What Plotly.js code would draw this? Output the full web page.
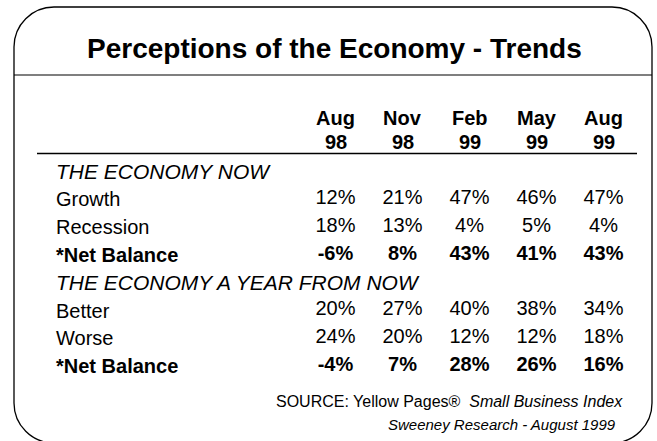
<!DOCTYPE html>
<html>
<head>
<meta charset="utf-8">
<script src="https://cdn.plot.ly/plotly-3.0.1.min.js"></script>
<style>html,body{margin:0;padding:0;background:#fff;}#chart{width:657px;height:441px;}</style>
</head>
<body>
<div id="chart"></div>
<script>
// ---- data ----
const periods = ['Aug 98', 'Nov 98', 'Feb 99', 'May 99', 'Aug 99'];
const headerMonth = ['Aug', 'Nov', 'Feb', 'May', 'Aug'];
const headerYear = ['98', '98', '99', '99', '99'];
const rowLabels = ['THE ECONOMY NOW', 'Growth', 'Recession', '*Net Balance',
                   'THE ECONOMY A YEAR FROM NOW', 'Better', 'Worse', '*Net Balance'];
const rowKinds = ['section', 'item', 'item', 'net', 'section', 'item', 'item', 'net'];
const growthNow = [12, 21, 47, 46, 47];
const recessionNow = [18, 13, 4, 5, 4];
const netBalanceNow = [-6, 8, 43, 41, 43];
const betterYear = [20, 27, 40, 38, 34];
const worseYear = [24, 20, 12, 12, 18];
const netBalanceYear = [-4, 7, 28, 26, 16];
const titleText = 'Perceptions of the Economy - Trends';
const sourceText = 'SOURCE: Yellow Pages®  <i>Small Business Index</i>';
const creditText = '<i>Sweeney Research - August 1999</i>';

// ---- layout helpers ----
const W = 657, H = 441;
const FONT = 'Liberation Sans, Arial, Helvetica, sans-serif';
const px = x => x / W;
const py = y => 1 - y / H;

const rowSeries = [null, growthNow, recessionNow, netBalanceNow, null, betterYear, worseYear, netBalanceYear];

const traces = [];
rowSeries.forEach((vals, i) => {
  if (!vals) return;
  traces.push({
    type: 'scatter', mode: 'text',
    x: periods, y: vals.map(() => i),
    text: vals.map(v => v + '%'),
    textposition: 'middle center',
    textfont: {family: FONT, size: 20, color: '#000', weight: rowKinds[i] === 'net' ? 'bold' : 'normal'},
    cliponaxis: false, hoverinfo: 'skip', showlegend: false
  });
});

const annotations = [];
// title
annotations.push({xref: 'paper', yref: 'paper', x: px(334), y: py(48), xanchor: 'center', yanchor: 'middle',
  text: titleText, showarrow: false, font: {family: FONT, size: 28, color: '#000', weight: 'bold'}});
// column headers
periods.forEach((p, k) => {
  annotations.push({xref: 'x', yref: 'paper', x: p, y: py(118.5), xanchor: 'center', yanchor: 'middle',
    text: headerMonth[k], showarrow: false, font: {family: FONT, size: 20, color: '#000', weight: 'bold'}});
  annotations.push({xref: 'x', yref: 'paper', x: p, y: py(142), xanchor: 'center', yanchor: 'middle',
    text: headerYear[k], showarrow: false, font: {family: FONT, size: 20, color: '#000', weight: 'bold'}});
});
// row labels
rowLabels.forEach((lab, i) => {
  const kind = rowKinds[i];
  annotations.push({xref: 'paper', yref: 'y', x: px(54), y: i, xanchor: 'left', yanchor: 'middle',
    text: lab, showarrow: false,
    font: {family: FONT, size: kind === 'section' ? 21 : 20, color: '#000',
           weight: kind === 'net' ? 'bold' : 'normal', style: kind === 'section' ? 'italic' : 'normal'}});
});
// source lines
annotations.push({xref: 'paper', yref: 'paper', x: px(625), y: py(401), xanchor: 'right', yanchor: 'middle',
  text: sourceText, showarrow: false, font: {family: FONT, size: 16, color: '#000'}});
annotations.push({xref: 'paper', yref: 'paper', x: px(618), y: py(424), xanchor: 'right', yanchor: 'middle',
  text: creditText, showarrow: false, font: {family: FONT, size: 15, color: '#000'}});

// frame (rounded rectangle)
const L = 14, R = 652, T = 7, B = 443, r = 40, kk = 0.5523 * r;
const P = (x, y) => px(x).toFixed(5) + ',' + py(y).toFixed(5);
const framePath = 'M' + P(L, T + r) +
  ' C' + P(L, T + r - kk) + ' ' + P(L + r - kk, T) + ' ' + P(L + r, T) +
  ' L' + P(R - r, T) +
  ' C' + P(R - r + kk, T) + ' ' + P(R, T + r - kk) + ' ' + P(R, T + r) +
  ' L' + P(R, B - r) +
  ' C' + P(R, B - r + kk) + ' ' + P(R - r + kk, B) + ' ' + P(R - r, B) +
  ' L' + P(L + r, B) +
  ' C' + P(L + r - kk, B) + ' ' + P(L, B - r + kk) + ' ' + P(L, B - r) + ' Z';

const shapes = [
  {type: 'path', xref: 'paper', yref: 'paper', path: framePath, line: {color: '#000', width: 1.3}},
  {type: 'line', xref: 'paper', yref: 'paper', x0: px(L), x1: px(R), y0: py(75), y1: py(75), line: {color: '#000', width: 1.2}},
  {type: 'line', xref: 'paper', yref: 'paper', x0: px(37), x1: px(637), y0: py(153.5), y1: py(153.5), line: {color: '#000', width: 1.6}}
];

// row i centred at 171 + 27.9*i px
const rowTop = 171 - 27.9 / 2, rowBottom = 171 + 27.9 * 7.5;
const layout = {
  width: W, height: H,
  margin: {l: 0, r: 0, t: 0, b: 0},
  paper_bgcolor: '#fff', plot_bgcolor: '#fff',
  showlegend: false,
  xaxis: {type: 'category', categoryorder: 'array', categoryarray: periods, range: [-0.5, 4.5],
          domain: [px(302), px(637)], visible: false, fixedrange: true},
  yaxis: {type: 'linear', range: [7.5, -0.5], domain: [py(rowBottom), py(rowTop)], visible: false, fixedrange: true},
  annotations: annotations,
  shapes: shapes
};

Plotly.newPlot('chart', traces, layout, {displayModeBar: false, staticPlot: true});
</script>
</body>
</html>
